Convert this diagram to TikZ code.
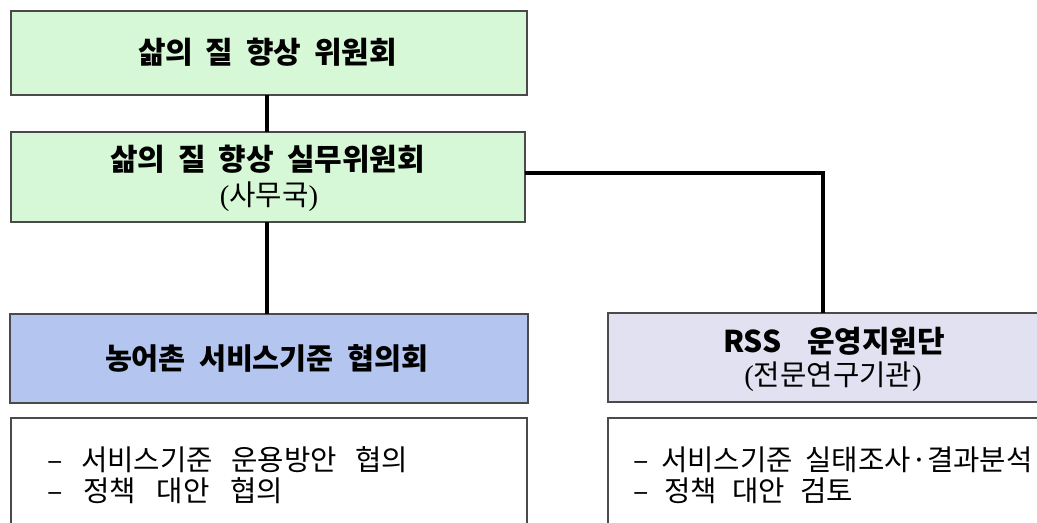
\documentclass[tikz,border=0pt]{standalone}
\usepackage{fontspec}
\newfontfamily\kr[WordSpace=2.0]{Noto Sans CJK KR}
\newfontfamily\lser{Liberation Serif}
\newcommand\lpar{{\lser(}}
\newcommand\rpar{{\lser)}}
\newcommand\fitline[2]{\makebox[#1][s]{#2}}
\definecolor{boxline}{HTML}{4A4A4A}
\definecolor{greenfill}{HTML}{D6F8D6}
\definecolor{bluefill}{HTML}{B4C6F0}
\definecolor{lavfill}{HTML}{E1E1F2}
\begin{document}
\begin{tikzpicture}[x=0.75pt,y=-0.75pt,
  orgbox/.style={draw=boxline, line width=1pt, inner sep=0pt, outer sep=0pt},
  titletext/.style={inner sep=0pt, font=\kr\bfseries\fontsize{22.5pt}{27pt}\selectfont},
  bluetext/.style={inner sep=0pt, font=\kr\bfseries\fontsize{22pt}{26pt}\selectfont},
  subtext/.style={inner sep=0pt, font=\kr\fontsize{21.5pt}{26pt}\selectfont},
  itemtext/.style={inner sep=0pt, anchor=west, font=\kr\fontsize{21.5pt}{25pt}\selectfont},
  conn/.style={line width=3pt, black}]
\clip (0,0) rectangle (1037,522);
\useasboundingbox (0,0) rectangle (1037,522);
\fill[white] (0,0) rectangle (1037,522);

% boxes
\node[orgbox, fill=greenfill, minimum width=387pt, minimum height=63pt] (b1) at (269,53) {};
\node[orgbox, fill=greenfill, minimum width=385.5pt, minimum height=67.5pt] (b2) at (268,177) {};
\node[orgbox, fill=bluefill, minimum width=388.5pt, minimum height=66.75pt] (blue) at (269,358.5) {};
\node[orgbox, fill=lavfill, minimum width=337.5pt, minimum height=66.75pt] (rss) at (833,357.5) {};
\node[orgbox, fill=white, minimum width=387pt, minimum height=91.5pt] (wl) at (269,479) {};
\node[orgbox, fill=white, minimum width=337.5pt, minimum height=91.5pt] (wr) at (833,479) {};

% connectors
\coordinate (lx) at (267,0);
\coordinate (hy) at (0,173);
\coordinate (rx) at (823,0);
\draw[conn] (b1.south -| lx) -- (b2.north -| lx);
\draw[conn] (b2.south -| lx) -- (blue.north -| lx);
\draw[conn] (b2.east |- hy) -| (rss.north -| rx);

% texts
\node[titletext] (t1) at (267.5,52) {\fitline{194.25pt}{삶의 질 향상 위원회}};
\node[titletext] (t2) at (267.5,159) {\fitline{236.25pt}{삶의 질 향상 실무위원회}};
\node[subtext] (t2s) at (269,197) {\lpar 사무국\rpar};
\node[bluetext] (t3) at (266.5,358) {\fitline{242.25pt}{농어촌 서비스기준 협의회}};
\node[titletext] (t4) at (834,341) {\fitline{166.5pt}{RSS 운영지원단}};
\node[subtext] (t4s) at (833,377) {\lpar 전문연구기관\rpar};

\node[itemtext] (l1) at (47,460) {\fitline{270.75pt}{– 서비스기준 운용방안 협의}};
\node[itemtext] (l2) at (47,491) {\fitline{177pt}{– 정책 대안 협의}};
\node[itemtext] (r1) at (633,460) {\fitline{299.5pt}{– 서비스기준 실태조사·결과분석}};
\node[itemtext] (r2) at (633,491) {\fitline{165pt}{– 정책 대안 검토}};
\end{tikzpicture}
\end{document}
